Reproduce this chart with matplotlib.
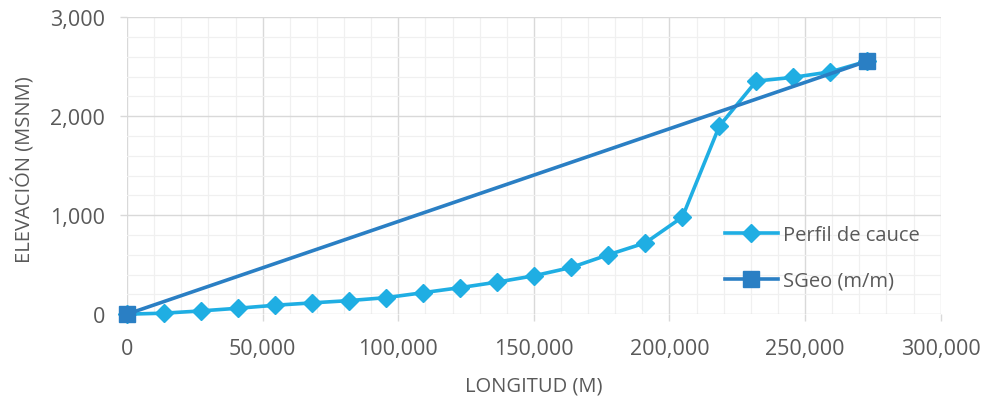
#!/usr/bin/env python3

"""River bed longitudinal profile versus the geometric mean slope line."""

import matplotlib as mpl
import matplotlib.pyplot as plt
from matplotlib.ticker import FuncFormatter, MultipleLocator

mpl.use("Agg")

# Perfil de cauce: distance along the channel (m) and bed elevation (msnm)
longitud = [0, 13650, 27300, 40950, 54600, 68250, 81900, 95550, 109200,
            122850, 136500, 150150, 163800, 177450, 191100, 204750, 218400,
            232050, 245700, 259350, 273000]
elevacion = [0, 10, 33, 60, 90, 114, 137, 167, 217, 268, 324, 388, 472,
             600, 720, 980, 1900, 2354, 2392, 2447, 2556]

# SGeo (m/m): straight line from outlet to head of the channel
sgeo_x = [0, 273000]
sgeo_y = [0, 2556]

color_perfil = "#1faee3"
color_sgeo = "#2a7fc4"
text_color = "#595959"
font = "Open Sans"


def main():
    """Entry point."""
    fig = plt.figure(figsize=(9.85, 4.02), dpi=100)
    ax = fig.add_axes([0.129, 0.216, 0.826, 0.739])

    ax.plot(longitud, elevacion, color=color_perfil, lw=2.6, marker="D",
            markersize=9, label="Perfil de cauce", zorder=3, clip_on=False)
    ax.plot(sgeo_x, sgeo_y, color=color_sgeo, lw=2.6, marker="s",
            markersize=11.5, label="SGeo (m/m)", zorder=4, clip_on=False)

    ax.set_xlim(0, 300000)
    ax.set_ylim(0, 3000)
    ax.xaxis.set_major_locator(MultipleLocator(50000))
    ax.xaxis.set_minor_locator(MultipleLocator(10000))
    ax.yaxis.set_major_locator(MultipleLocator(1000))
    ax.yaxis.set_minor_locator(MultipleLocator(200))
    fmt = FuncFormatter(lambda v, _: f"{int(v):,}")
    ax.xaxis.set_major_formatter(fmt)
    ax.yaxis.set_major_formatter(fmt)

    ax.grid(which="major", color="#d9d9d9", lw=1.0, zorder=0)
    ax.grid(which="minor", color="#f0f0f0", lw=0.9, zorder=0)
    ax.set_axisbelow(True)
    for spine in ax.spines.values():
        spine.set_visible(False)

    ax.tick_params(which="major", length=5, color="#d9d9d9", width=1.0,
                   labelsize=15.5, labelcolor=text_color)
    ax.tick_params(axis="x", which="major", pad=12)
    ax.tick_params(axis="y", which="major", pad=11)
    ax.tick_params(which="minor", length=0)
    for label in ax.get_xticklabels() + ax.get_yticklabels():
        label.set_fontfamily(font)

    ax.set_xlabel("LONGITUD (M)", fontsize=14.5, color=text_color,
                  family=font, va="center")
    ax.xaxis.set_label_coords(0.5, -0.24)
    ax.set_ylabel("ELEVACIÓN (MSNM)", fontsize=14.5, color=text_color,
                  family=font, va="center")
    ax.yaxis.set_label_coords(-0.127, 0.49)

    ax.legend(loc="center left", bbox_to_anchor=(0.713, 0.19), frameon=False,
              prop={"family": font, "size": 14.5}, labelcolor=text_color,
              handlelength=2.6, handletextpad=0.25, labelspacing=1.3)

    fig.savefig("out.png", dpi=100)


if __name__ == "__main__":
    main()
